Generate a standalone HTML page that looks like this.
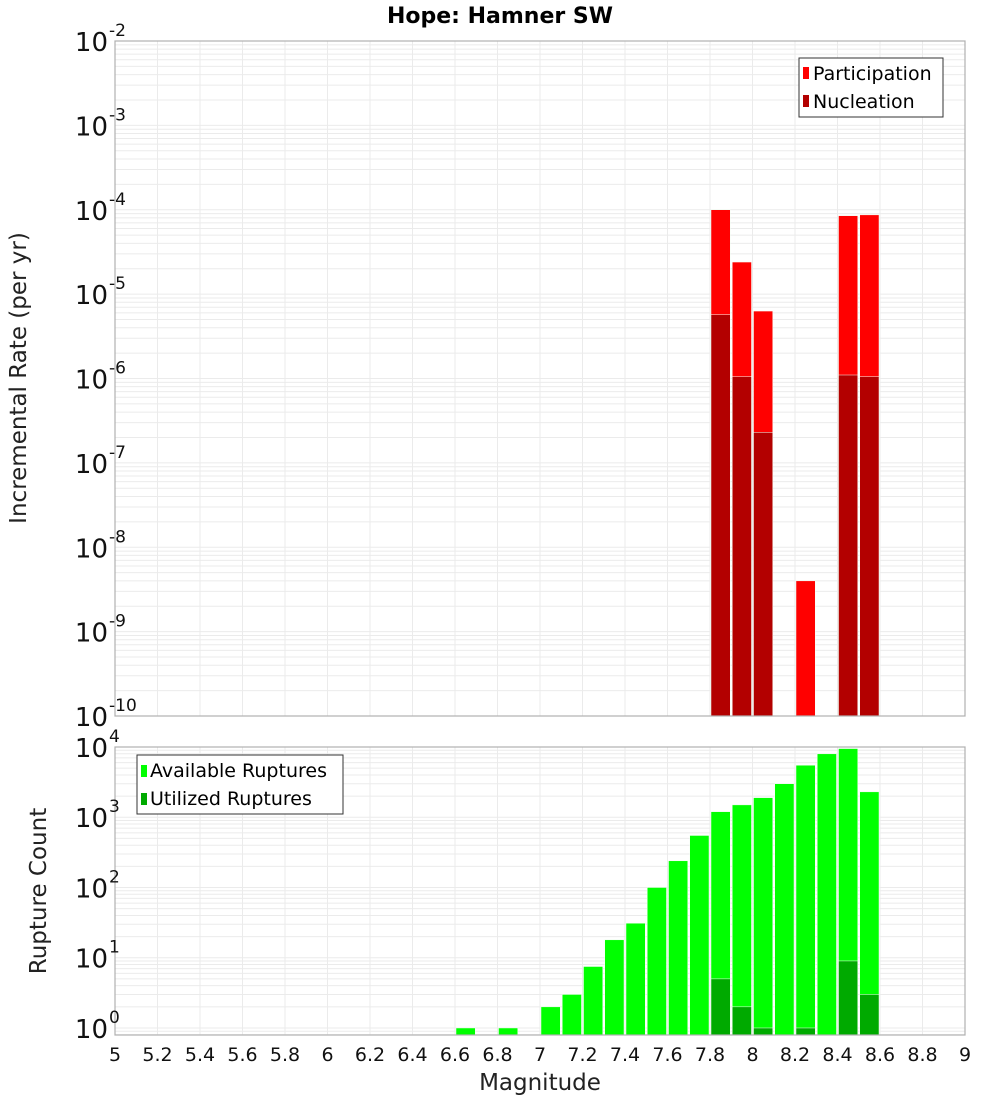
<!DOCTYPE html>
<html><head><meta charset="utf-8"><style>
body{margin:0;background:#fff;}
svg{display:block;font-family:"DejaVu Sans","Liberation Sans",sans-serif;}
</style></head><body>
<svg id="c" width="1000" height="1100"></svg>
<script>
const binCenters=[7.85,7.95,8.05,8.25,8.45,8.55];
const participation=[1.0e-4,2.4e-5,6.3e-6,4.0e-9,8.5e-5,8.7e-5];
const nucleation=[5.7e-6,1.05e-6,2.3e-7,0,1.1e-6,1.05e-6];
const countCenters=[6.65,6.85,7.05,7.15,7.25,7.35,7.45,7.55,7.65,7.75,7.85,7.95,8.05,8.15,8.25,8.35,8.45,8.55];
const available=[1,1,2,3,7.5,18,31,100,240,550,1200,1500,1900,3000,5500,8000,9500,2300];
const utilized=[0,0,0,0,0,0,0,0,0,0,5,2,1,0,1,0,9,3];
const xTicks=[5,5.2,5.4,5.6,5.8,6,6.2,6.4,6.6,6.8,7,7.2,7.4,7.6,7.8,8,8.2,8.4,8.6,8.8,9];
const topExps=[-2,-3,-4,-5,-6,-7,-8,-9,-10];
const botExps=[0,1,2,3,4];

const S=document.getElementById('c');const NS='http://www.w3.org/2000/svg';
function el(t,a,p){const e=document.createElementNS(NS,t);for(const k in a)e.setAttribute(k,a[k]);(p||S).appendChild(e);return e;}
const X0=115,X1=965;
const xs=v=>X0+(v-5)/4*(X1-X0);
const T={y0:41,y1:716,lmin:-10,lmax:-2};
const B={y0:747,y1:1035,lmin:-0.1,lmax:4.0};
const ys=(P,v)=>P.y1-(Math.log10(v)-P.lmin)/(P.lmax-P.lmin)*(P.y1-P.y0);

function grid(P,name){
  const g=el('g',{});
  for(let d=Math.floor(P.lmin);d<=Math.ceil(P.lmax);d++)for(let m=1;m<10;m++){
    const v=m*Math.pow(10,d);const y=ys(P,v);
    if(y<P.y0-0.5||y>P.y1+0.5)continue;
    el('line',{x1:X0,x2:X1,y1:y,y2:y,stroke:'#ebebeb','stroke-width':1},g);
  }
  xTicks.forEach(t=>{const x=xs(t);el('line',{x1:x,x2:x,y1:P.y0,y2:P.y1,stroke:'#ebebeb','stroke-width':1},g);});
}
function frame(P,name){
  const r=el('rect',{x:X0,y:P.y0,width:X1-X0,height:P.y1-P.y0,fill:'none',stroke:'#b0b0b0','stroke-width':1.2});
  
}
function bars(P,centers,vals,color,name){
  const g=el('g',{});
  centers.forEach((c,i)=>{const v=vals[i];if(!v)return;
    const xa=xs(c-0.05),xb=xs(c+0.05);const y=Math.max(ys(P,v),P.y0);
    const r=el('rect',{x:xa+1,y:y,width:xb-xa-2,height:P.y1-y,fill:color,stroke:'#f4fff4','stroke-width':0.5},g);
    
  });
}
function yLabels(P,exps,name,supOff){
  const g=el('g',{});
  exps.forEach(e=>{const y=ys(P,Math.pow(10,e));
    const t=el('text',{x:108,y:y+10,'font-size':26,'text-anchor':'end',fill:'#111'},g);
    t.textContent='10';
    const s=el('text',{x:109,y:y-5,'font-size':17,fill:'#111'},g);s.textContent=String(e);
    
  });
}
grid(T,'top');grid(B,'bottom');
bars(T,binCenters,participation,'#ff0000','participation');
bars(T,binCenters,nucleation,'#b30000','nucleation');
bars(B,countCenters,available,'#00ff00','available-ruptures');
bars(B,countCenters,utilized,'#00aa00','utilized-ruptures');
frame(T,'top-plot');frame(B,'bottom-plot');
yLabels(T,topExps,'top-y-ticks');yLabels(B,botExps,'bottom-y-ticks');
const xg=el('g',{});
xTicks.forEach(t=>{const tx=el('text',{x:xs(t),y:1061,'font-size':19,'text-anchor':'middle',fill:'#111'},xg);tx.textContent=String(t);});
</script>
<svg style="position:absolute;left:0;top:0" width="1000" height="1100" font-family="DejaVu Sans, Liberation Sans, sans-serif">
<text x="500" y="23" font-size="22" font-weight="bold" text-anchor="middle">Hope: Hamner SW</text>
<text transform="translate(26,378) rotate(-90)" font-size="23" text-anchor="middle" fill="#222">Incremental Rate (per yr)</text>
<text transform="translate(46,891) rotate(-90)" font-size="23" text-anchor="middle" fill="#222">Rupture Count</text>
<text x="540" y="1090" font-size="23" text-anchor="middle" fill="#222">Magnitude</text>
<g>
<rect x="799" y="58" width="144" height="59" fill="#fff" stroke="#333" stroke-width="1"/>
<rect x="803" y="67" width="6" height="12" fill="#ff0000"/>
<text x="813" y="80" font-size="19">Participation</text>
<rect x="803" y="95" width="6" height="12" fill="#b30000"/>
<text x="813" y="108" font-size="19">Nucleation</text>
</g>
<g>
<rect x="137" y="755" width="206" height="59" fill="#fff" stroke="#333" stroke-width="1"/>
<rect x="141" y="765" width="6" height="12" fill="#00ff00"/>
<text x="150" y="777" font-size="19">Available Ruptures</text>
<rect x="141" y="793" width="6" height="12" fill="#00aa00"/>
<text x="150" y="805" font-size="19">Utilized Ruptures</text>
</g>
</svg>
</body></html>
